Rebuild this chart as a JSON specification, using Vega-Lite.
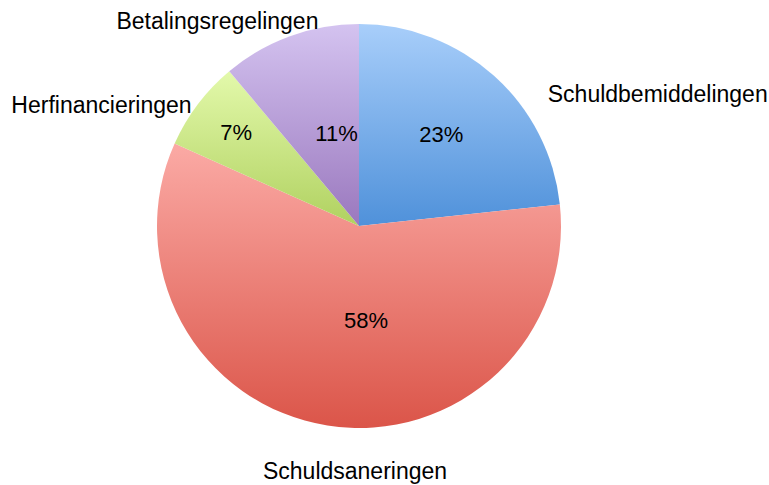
{
  "$schema": "https://vega.github.io/schema/vega-lite/v6.json",
  "width": 718,
  "height": 452,
  "autosize": "none",
  "padding": {"left": 0, "top": 0, "right": 51, "bottom": 33},
  "background": "white",
  "view": {"stroke": null},
  "config": {"text": {"font": "Liberation Sans", "fontSize": 22, "color": "black"}},
  "data": {
    "values": [
      {"category": "Schuldbemiddelingen", "value": 23.3},
      {"category": "Schuldsaneringen", "value": 58.4},
      {"category": "Herfinancieringen", "value": 7.2},
      {"category": "Betalingsregelingen", "value": 11.1}
    ]
  },
  "transform": [
    {"window": [{"op": "sum", "field": "value", "as": "end"}], "frame": [null, 0]},
    {"joinaggregate": [{"op": "sum", "field": "value", "as": "total"}]},
    {"calculate": "datum.end - datum.value", "as": "start"},
    {"calculate": "datum.end - datum.value / 2", "as": "mid"},
    {"calculate": "datum.value / datum.total", "as": "pct"}
  ],
  "layer": [
    {
      "transform": [{"filter": "datum.category === 'Schuldbemiddelingen'"}],
      "layer": [
        {
          "mark": {"type": "arc", "outerRadius": 202, "color": {"gradient": "linear", "x1": 0, "y1": 0, "x2": 0, "y2": 1, "stops": [{"offset": 0, "color": "#a8cefa"}, {"offset": 1, "color": "#4f91da"}]}},
          "encoding": {
            "theta": {"field": "start", "type": "quantitative", "stack": null, "scale": {"domain": [0, 100]}},
            "theta2": {"field": "end"}
          }
        },
        {
          "mark": {"type": "text", "radius": 123},
          "encoding": {
            "theta": {"field": "mid", "type": "quantitative", "stack": null, "scale": {"domain": [0, 100]}},
            "text": {"field": "pct", "type": "quantitative", "format": ".0%"}
          }
        },
        {
          "mark": {"type": "text", "radius": 230, "dx": 145, "dy": 40, "fontSize": 23},
          "encoding": {
            "theta": {"field": "mid", "type": "quantitative", "stack": null, "scale": {"domain": [0, 100]}},
            "text": {"field": "category", "type": "nominal"}
          }
        }
      ]
    },
    {
      "transform": [{"filter": "datum.category === 'Schuldsaneringen'"}],
      "layer": [
        {
          "mark": {"type": "arc", "outerRadius": 202, "color": {"gradient": "linear", "x1": 0, "y1": 0, "x2": 0, "y2": 1, "stops": [{"offset": 0, "color": "#fbaaa5"}, {"offset": 1, "color": "#db5549"}]}},
          "encoding": {
            "theta": {"field": "start", "type": "quantitative", "stack": null, "scale": {"domain": [0, 100]}},
            "theta2": {"field": "end"}
          }
        },
        {
          "mark": {"type": "text", "radius": 96, "dx": 22},
          "encoding": {
            "theta": {"field": "mid", "type": "quantitative", "stack": null, "scale": {"domain": [0, 100]}},
            "text": {"field": "pct", "type": "quantitative", "format": ".0%"}
          }
        },
        {
          "mark": {"type": "text", "radius": 230, "dx": 32, "dy": 19, "fontSize": 23},
          "encoding": {
            "theta": {"field": "mid", "type": "quantitative", "stack": null, "scale": {"domain": [0, 100]}},
            "text": {"field": "category", "type": "nominal"}
          }
        }
      ]
    },
    {
      "transform": [{"filter": "datum.category === 'Herfinancieringen'"}],
      "layer": [
        {
          "mark": {"type": "arc", "outerRadius": 202, "color": {"gradient": "linear", "x1": 0, "y1": 0, "x2": 0, "y2": 1, "stops": [{"offset": 0, "color": "#e3f9ab"}, {"offset": 1, "color": "#b0d160"}]}},
          "encoding": {
            "theta": {"field": "start", "type": "quantitative", "stack": null, "scale": {"domain": [0, 100]}},
            "theta2": {"field": "end"}
          }
        },
        {
          "mark": {"type": "text", "radius": 154},
          "encoding": {
            "theta": {"field": "mid", "type": "quantitative", "stack": null, "scale": {"domain": [0, 100]}},
            "text": {"field": "pct", "type": "quantitative", "format": ".0%"}
          }
        },
        {
          "mark": {"type": "text", "radius": 230, "dx": -74, "dy": 19, "fontSize": 23},
          "encoding": {
            "theta": {"field": "mid", "type": "quantitative", "stack": null, "scale": {"domain": [0, 100]}},
            "text": {"field": "category", "type": "nominal"}
          }
        }
      ]
    },
    {
      "transform": [{"filter": "datum.category === 'Betalingsregelingen'"}],
      "layer": [
        {
          "mark": {"type": "arc", "outerRadius": 202, "color": {"gradient": "linear", "x1": 0, "y1": 0, "x2": 0, "y2": 1, "stops": [{"offset": 0, "color": "#d4c3f0"}, {"offset": 1, "color": "#9a78be"}]}},
          "encoding": {
            "theta": {"field": "start", "type": "quantitative", "stack": null, "scale": {"domain": [0, 100]}},
            "theta2": {"field": "end"}
          }
        },
        {
          "mark": {"type": "text", "radius": 95, "dx": 10, "dy": -3},
          "encoding": {
            "theta": {"field": "mid", "type": "quantitative", "stack": null, "scale": {"domain": [0, 100]}},
            "text": {"field": "pct", "type": "quantitative", "format": ".0%"}
          }
        },
        {
          "mark": {"type": "text", "radius": 230, "dx": -63, "dy": 12, "fontSize": 23},
          "encoding": {
            "theta": {"field": "mid", "type": "quantitative", "stack": null, "scale": {"domain": [0, 100]}},
            "text": {"field": "category", "type": "nominal"}
          }
        }
      ]
    }
  ]
}
